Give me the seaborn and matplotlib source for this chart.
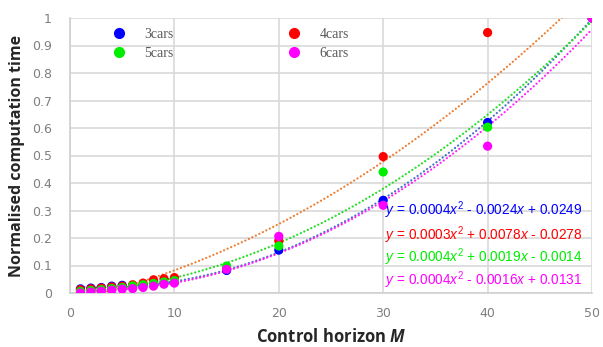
import numpy as np
import pandas as pd
import matplotlib
matplotlib.use("Agg")
import matplotlib.pyplot as plt
import seaborn as sns
from matplotlib.lines import Line2D

# ---- data ----
horizon = [1, 2, 3, 4, 5, 6, 7, 8, 9, 10, 15, 20, 30, 40, 50]
cars3 = [0.015, 0.018, 0.020, 0.025, 0.028, 0.025, 0.028, 0.032, 0.036, 0.040, 0.082, 0.156, 0.337, 0.620, 1.0]
cars4 = [0.012, 0.015, 0.018, 0.022, 0.025, 0.030, 0.036, 0.048, 0.052, 0.056, 0.090, 0.190, 0.496, 0.947, 1.0]
cars5 = [0.006, 0.009, 0.012, 0.016, 0.020, 0.026, 0.030, 0.035, 0.040, 0.045, 0.098, 0.171, 0.440, 0.603, 1.0]
cars6 = [0.000, 0.003, 0.006, 0.010, 0.014, 0.016, 0.020, 0.025, 0.032, 0.036, 0.086, 0.206, 0.319, 0.534, 1.0]
series_names = ["3cars", "4cars", "5cars", "6cars"]
point_colors = ["#0000FF", "#FF0000", "#00EE00", "#FF00FF"]
trend_colors = ["#4472C4", "#ED7D31", "#22DD22", "#FF22FF"]
equations = [
    r"$y$ = 0.0004$x^2$ - 0.0024$x$ + 0.0249",
    r"$y$ = 0.0003$x^2$ + 0.0078$x$ - 0.0278",
    r"$y$ = 0.0004$x^2$ + 0.0019$x$ - 0.0014",
    r"$y$ = 0.0004$x^2$ - 0.0016$x$ + 0.0131",
]
x_ticks = [0, 10, 20, 30, 40, 50]
y_ticks = [0, 0.1, 0.2, 0.3, 0.4, 0.5, 0.6, 0.7, 0.8, 0.9, 1.0]
y_ticklabels = ["0", "0.1", "0.2", "0.3", "0.4", "0.5", "0.6", "0.7", "0.8", "0.9", "1"]

values = [cars3, cars4, cars5, cars6]
df = pd.concat([pd.DataFrame({"M": horizon, "t": v, "series": n})
                for n, v in zip(series_names, values)], ignore_index=True)

# quadratic trendlines fitted to the data (as a spreadsheet trendline does)
xs = np.linspace(min(horizon), max(horizon), 200)
trend_frames = []
for n, v in zip(series_names, values):
    c = np.polyfit(horizon, v, 2)
    trend_frames.append(pd.DataFrame({"M": xs, "t": np.polyval(c, xs), "series": n}))
tdf = pd.concat(trend_frames, ignore_index=True)

sns.set_theme(style="white")
plt.rcParams["font.family"] = ["DejaVu Sans"]
plt.rcParams["mathtext.fontset"] = "custom"
plt.rcParams["mathtext.it"] = "Liberation Sans:italic"
plt.rcParams["mathtext.rm"] = "Liberation Sans"
plt.rcParams["mathtext.bfit"] = "Open Sans:italic:bold"

L, R, T, B = 70, 592, 18, 293
fig = plt.figure(figsize=(6.03, 3.47), dpi=100)
ax = fig.add_axes([L / 603, 1 - B / 347, (R - L) / 603, (B - T) / 347])
ax.set_xlim(0, 50)
ax.set_ylim(0, 1)

for n, tc in zip(series_names, trend_colors):
    sub = tdf[tdf.series == n]
    sns.lineplot(data=sub, x="M", y="t", ax=ax, color=tc, lw=1.6,
                 linestyle=(0, (0.05, 1.7)), legend=False, zorder=2)
for line in ax.lines:
    line.set_dash_capstyle("round")

sns.scatterplot(data=df, x="M", y="t", hue="series", hue_order=series_names,
                palette=point_colors, s=44, edgecolor="none", ax=ax, zorder=3, legend=False)

ax.set_xticks(x_ticks)
ax.set_yticks(y_ticks)
ax.set_yticklabels(y_ticklabels)
ax.tick_params(axis="both", length=0, labelsize=9, labelcolor="#7f7f7f")
ax.tick_params(axis="x", pad=10)
ax.tick_params(axis="y", pad=13)
ax.grid(True, color="#d9d9d9", lw=1.2)
ax.set_axisbelow(True)
for s in ["top", "right"]:
    ax.spines[s].set_visible(False)
for s in ["left", "bottom"]:
    ax.spines[s].set_color("#d0d0d0")
    ax.spines[s].set_linewidth(1.2)

ax.set_xlabel(r"Control horizon $\mathbfit{M}$", fontsize=12, fontweight="bold",
              family="Open Sans", labelpad=6)
ax.set_ylabel("Normalised computation time", fontsize=11.5, fontweight="bold",
              family="Open Sans", labelpad=5)

# legend
handles = [Line2D([], [], marker="o", ls="", color=c, markersize=7) for c in point_colors]
order = [0, 2, 1, 3]
leg = ax.legend([handles[i] for i in order], [series_names[i] for i in order], ncol=2,
                loc="upper left", bbox_to_anchor=(0.068, 0.99), frameon=False,
                borderpad=0, handlelength=1.0, handletextpad=1.3, columnspacing=8.2,
                labelspacing=0.45, prop={"family": "Liberation Serif", "size": 10})
for t in leg.get_texts():
    t.set_color("#595959")

eq_y = [0.262, 0.170, 0.090, 0.006]
for eq, c, yy in zip(equations, point_colors, eq_y):
    ax.text(0.603, yy, eq, transform=ax.transAxes, color=c, fontsize=9.8,
            family="Liberation Sans", ha="left", va="bottom")

fig.savefig("out.png", dpi=100)
